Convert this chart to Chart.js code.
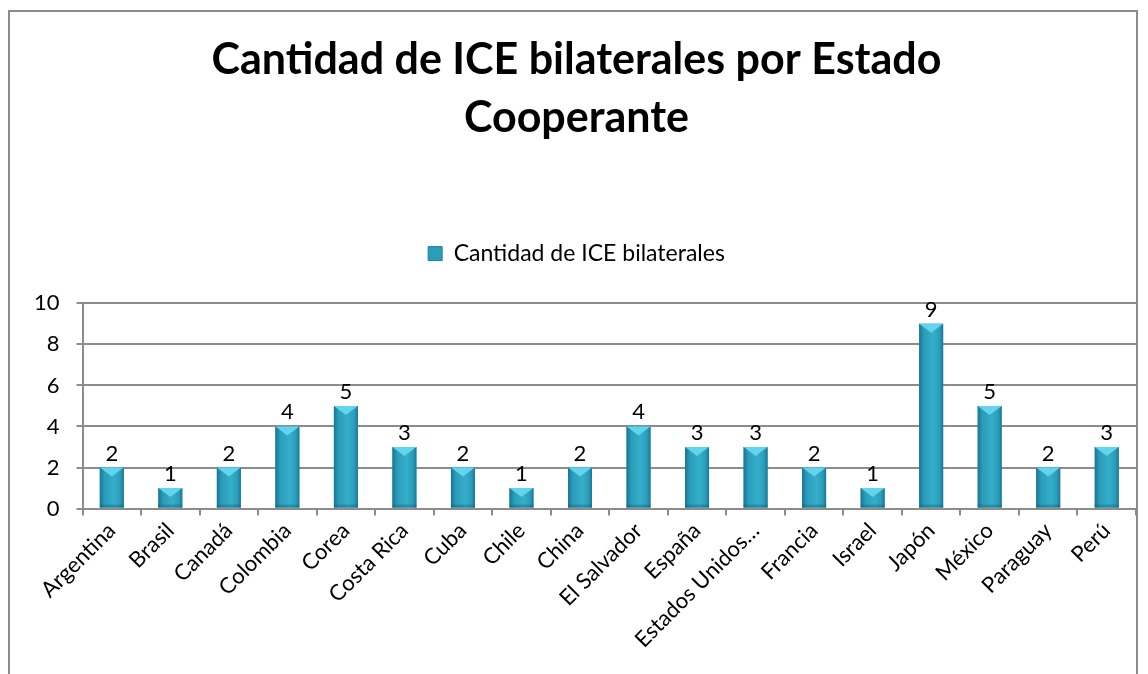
<!DOCTYPE html>
<html>
<head>
<meta charset="utf-8">
<script src="https://cdn.jsdelivr.net/npm/chart.js@4"></script>
<style>
  html, body { margin: 0; padding: 0; background: #fff; }
  #wrap { position: relative; width: 1148px; height: 674px; overflow: hidden; }
  #frame { position: absolute; left: 8px; top: 10px; width: 1130px; height: 700px;
           border: 2px solid #8c8c8c; box-sizing: border-box; }
  canvas { position: absolute; left: 0; top: 0; }
</style>
</head>
<body>
<div id="wrap">
  <div id="frame"></div>
  <canvas id="chart" width="1148" height="674"></canvas>
</div>
<script>
const categories = ['Argentina', 'Brasil', 'Canadá', 'Colombia', 'Corea', 'Costa Rica', 'Cuba', 'Chile',
    'China', 'El Salvador', 'España', 'Estados Unidos…', 'Francia', 'Israel', 'Japón', 'México',
    'Paraguay', 'Perú'];
const iceCounts = [2, 1, 2, 4, 5, 3, 2, 1, 2, 4, 3, 3, 2, 1, 9, 5, 2, 3];
const yTicks = [0, 2, 4, 6, 8, 10];

const FONT = 'Lato, "Noto Sans", sans-serif';

// bisel de las barras + etiquetas de valor
const bevelPlugin = {
    id: 'bevel',
    afterDatasetsDraw(chart) {
        const ctx = chart.ctx;
        const meta = chart.getDatasetMeta(0);
        ctx.save();
        meta.data.forEach((bar, i) => {
            const w = bar.width;
            const left = bar.x - w / 2;
            const right = bar.x + w / 2;
            const top = bar.y;
            const base = bar.base;

            // cuerpo con degradado horizontal
            const g = ctx.createLinearGradient(left, 0, right, 0);
            g.addColorStop(0, '#1b7590');
            g.addColorStop(0.2, '#2a9dbb');
            g.addColorStop(0.6, '#35aeca');
            g.addColorStop(0.85, '#2a9dbb');
            g.addColorStop(1, '#1c7892');
            ctx.fillStyle = g;
            ctx.fillRect(left, top, w, base - top);

            // borde inferior algo más oscuro
            ctx.fillStyle = 'rgba(20,90,110,0.35)';
            ctx.fillRect(left, base - 3, w, 3);

            // bisel superior (triángulo claro)
            ctx.beginPath();
            ctx.moveTo(left, top);
            ctx.lineTo(right, top);
            ctx.lineTo(bar.x, top + 9);
            ctx.closePath();
            ctx.fillStyle = '#62d4ec';
            ctx.fill();

            // valor
            ctx.fillStyle = '#000';
            ctx.font = '22px ' + FONT;
            ctx.textAlign = 'center';
            ctx.textBaseline = 'alphabetic';
            ctx.fillText(String(iceCounts[i]), bar.x, top - 7);
        });
        ctx.restore();
    }
};

new Chart(document.getElementById('chart'), {
    type: 'bar',
    data: {
        labels: categories,
        datasets: [{
            label: 'Cantidad de ICE bilaterales',
            data: iceCounts,
            backgroundColor: '#2a9dbb',
            borderWidth: 0,
            categoryPercentage: 0.41,
            barPercentage: 1
        }]
    },
    options: {
        responsive: false,
        animation: false,
        devicePixelRatio: 1,
        layout: { padding: { left: 17, right: 12, top: 10, bottom: 19 } },
        plugins: {
            title: {
                display: true,
                text: ['Cantidad de ICE bilaterales por Estado', 'Cooperante'],
                color: '#000',
                font: { family: FONT, size: 43, weight: 'bold', lineHeight: 1.35 },
                padding: { top: 21, bottom: 43 }
            },
            // espacio vacío entre la leyenda y el área del gráfico
            subtitle: {
                display: true,
                text: ' ',
                weight: 500,
                font: { size: 1 },
                padding: { top: 0, bottom: 27 }
            },
            legend: {
                display: true,
                position: 'top',
                labels: {
                    color: '#000',
                    font: { family: FONT, size: 23 },
                    boxWidth: 14,
                    boxHeight: 14,
                    padding: 52,
                    generateLabels(chart) {
                        return [{
                            text: chart.data.datasets[0].label,
                            fillStyle: '#2a9dbb',
                            strokeStyle: '#1d7d97',
                            lineWidth: 1,
                            datasetIndex: 0
                        }];
                    }
                }
            },
            tooltip: { enabled: false }
        },
        scales: {
            x: {
                grid: {
                    offset: true,
                    drawOnChartArea: false,
                    drawTicks: true,
                    tickLength: 7,
                    color: '#8c8c8c',
                    lineWidth: 2
                },
                border: { color: '#8c8c8c', width: 2 },
                ticks: {
                    color: '#000',
                    font: { family: FONT, size: 22 },
                    minRotation: 45,
                    maxRotation: 45,
                    autoSkip: false,
                    padding: 2
                }
            },
            y: {
                min: 0,
                max: 10,
                afterBuildTicks(axis) {
                    axis.ticks = yTicks.map(v => ({ value: v }));
                },
                grid: {
                    color: '#8c8c8c',
                    lineWidth: 2,
                    tickLength: 6
                },
                border: { color: '#8c8c8c', width: 2 },
                ticks: {
                    color: '#000',
                    font: { family: FONT, size: 22 },
                    padding: 17
                }
            }
        }
    },
    plugins: [bevelPlugin]
});
</script>
</body>
</html>
